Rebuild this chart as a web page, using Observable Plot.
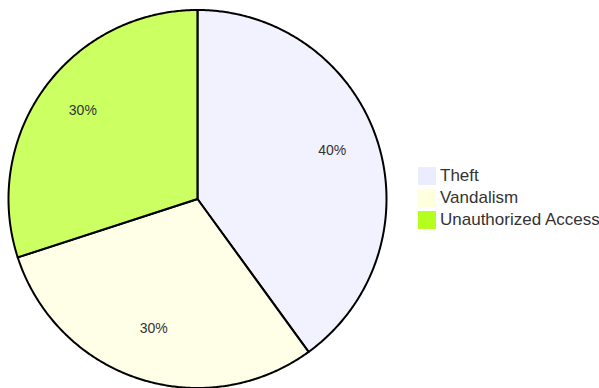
<!DOCTYPE html>
<html>
<head>
<meta charset="utf-8">
<script src="https://cdn.jsdelivr.net/npm/d3@7"></script>
<script src="https://cdn.jsdelivr.net/npm/@observablehq/plot@0.6"></script>
<style>
  html, body { margin: 0; padding: 0; background: #fff; }
  #wrap { position: relative; width: 599px; height: 388px; overflow: hidden; font-family: "Liberation Sans", Arial, sans-serif; }
  #legend { position: absolute; left: 418px; top: 165px; }
  .item { display: flex; align-items: center; height: 22px; white-space: nowrap; }
  .sw { width: 18px; height: 18px; margin-right: 4px; flex: none; }
  .lbl { font-size: 17px; color: #333; line-height: 18px; }
</style>
</head>
<body>
<div id="wrap"></div>
<script>
const categories = ["Theft", "Vandalism", "Unauthorized Access"];
const values = [40, 30, 30];
const colors = ["#ECECFF", "#FFFFDE", "#B5FF20"];

const W = 599, H = 388;
const cx = 197, cy = 198.5, R = 189;

const total = d3.sum(values);
const arcs = d3.pie().sort(null).value(d => d.value)(categories.map((c, i) => ({category: c, value: values[i]})));

// wedge outlines in unit-radius coordinates (y up)
const pts = [];
for (const a of arcs) {
  const c = a.data.category;
  pts.push({category: c, x: 0, y: 0});
  const n = Math.max(2, Math.ceil((a.endAngle - a.startAngle) / (Math.PI / 360)));
  for (let k = 0; k <= n; k++) {
    const t = a.startAngle + (a.endAngle - a.startAngle) * k / n;
    pts.push({category: c, x: Math.sin(t), y: Math.cos(t)});
  }
  pts.push({category: c, x: 0, y: 0});
}
const labels = arcs.map(a => {
  const m = (a.startAngle + a.endAngle) / 2;
  return {x: 0.75 * Math.sin(m), y: 0.75 * Math.cos(m), text: Math.round(a.data.value / total * 100) + "%"};
});

const plot = Plot.plot({
  width: W, height: H,
  margin: 0,
  x: {domain: [-cx / R, (W - cx) / R], axis: null},
  y: {domain: [-(H - cy) / R, cy / R], axis: null},
  color: {domain: categories, range: colors},
  style: {fontFamily: "'Liberation Sans', Arial, sans-serif", background: "transparent"},
  marks: [
    Plot.line(pts, {x: "x", y: "y", z: "category", fill: "category", fillOpacity: 0.7, stroke: "black", strokeWidth: 2, strokeLinejoin: "round", curve: "linear"}),
    Plot.text(labels, {x: "x", y: "y", text: "text", fontSize: 14, fill: "#333", textAnchor: "middle", dy: -5})
  ]
});

const wrap = document.getElementById("wrap");
wrap.appendChild(plot);

const legend = document.createElement("div");
legend.id = "legend";
categories.forEach((c, i) => {
  const item = document.createElement("div");
  item.className = "item";
  const sw = document.createElement("div");
  sw.className = "sw";
  sw.style.background = colors[i];
  const lbl = document.createElement("span");
  lbl.className = "lbl";
  lbl.textContent = c;
  item.appendChild(sw);
  item.appendChild(lbl);
  legend.appendChild(item);
});
wrap.appendChild(legend);
</script>
</body>
</html>
